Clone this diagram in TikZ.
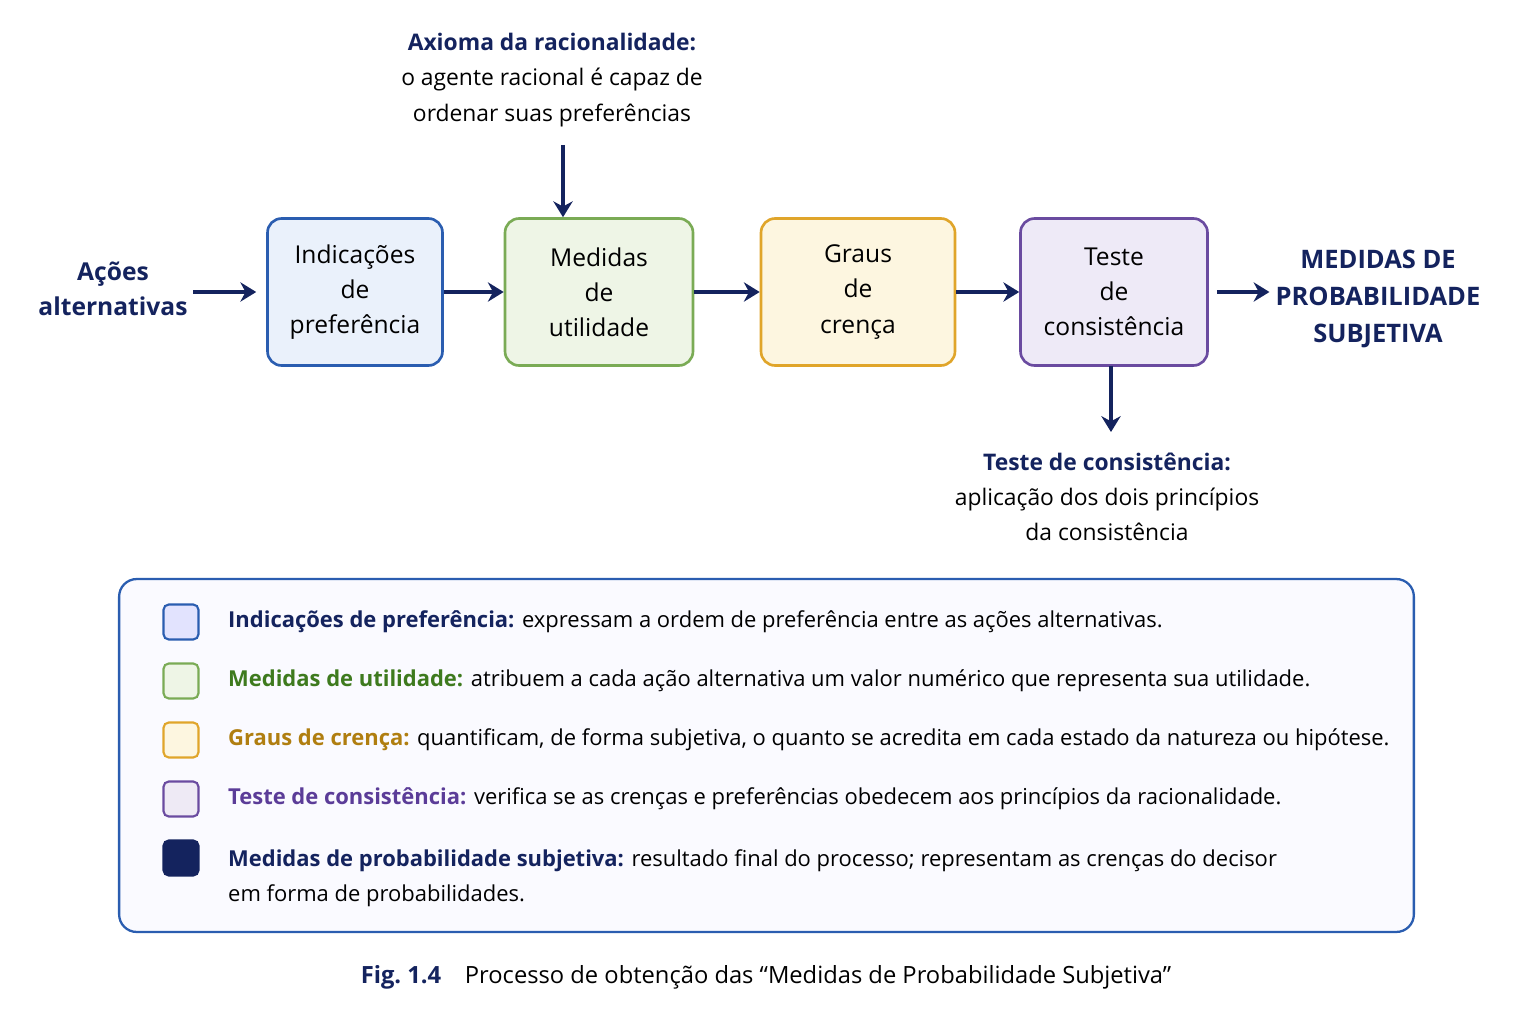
\documentclass[tikz,border=0pt]{standalone}
\usepackage{fontspec}
\setmainfont{Open Sans}
\usetikzlibrary{arrows.meta,positioning}
\definecolor{navy}{HTML}{14235E}
\definecolor{bluebd}{HTML}{2A5DB0}\definecolor{bluefl}{HTML}{EAF1FB}
\definecolor{greenbd}{HTML}{7AAB55}\definecolor{greenfl}{HTML}{EEF5E6}
\definecolor{yellowbd}{HTML}{E0A52A}\definecolor{yellowfl}{HTML}{FDF6E0}
\definecolor{purplebd}{HTML}{6A4BA0}\definecolor{purplefl}{HTML}{EEEAF7}
\definecolor{greentx}{HTML}{3E7A1E}\definecolor{yellowtx}{HTML}{B07E10}
\definecolor{purpletx}{HTML}{5B3C98}
\tikzset{%
	stage/.style  = {draw, line width=1.5pt, rounded corners=8pt, minimum height=2.94cm, align=center, font=\fontsize{14}{20}\selectfont, text=black},
	arrow/.style  = {draw=navy, line width=2.2pt, -{Stealth[length=9pt,width=11pt]}},
	note/.style   = {align=center, font=\fontsize{13}{20}\selectfont},
	legsq/.style  = {draw, line width=1.2pt, rounded corners=3pt, minimum size=0.7cm},
	legtx/.style  = {anchor=west, align=left, font=\fontsize{12.5}{20}\selectfont},
}
\begin{document}
\begin{tikzpicture}[x=0.02cm,y=-0.02cm]
	\useasboundingbox (0,0) rectangle (1536,1024);
	
	% process chain
	\node[stage, draw=bluebd, fill=bluefl, minimum width=3.5cm] (pref) at (355,292) {Indicações\\de\\preferência};
	\node[stage, draw=greenbd, fill=greenfl, minimum width=3.76cm] (util) at (599,292) {Medidas\\de\\utilidade};
	\node[stage, draw=yellowbd, fill=yellowfl, minimum width=3.88cm] (grau) at (858,292) {Graus\\de\\crença};
	\node[stage, draw=purplebd, fill=purplefl, minimum width=3.74cm] (test) at (1114,292) {Teste\\de\\consistência};
	
	\node[note, text=navy, font=\fontsize{14}{20}\selectfont\bfseries] (acoes) at (113,289) {Ações\\alternativas};
	\node[note, text=navy, font=\fontsize{14.5}{21}\selectfont\bfseries] (prob) at (1378,299) {MEDIDAS DE\\PROBABILIDADE\\SUBJETIVA};
	\node[note] (axioma) at (552,80) {\textcolor{navy}{\bfseries Axioma da racionalidade:}\\o agente racional é capaz de\\ordenar suas preferências};
	\node[note] (cons) at (1107,497) {\textcolor{navy}{\bfseries Teste de consistência:}\\aplicação dos dois princípios\\da consistência};
	
	\coordinate (a0) at (193,292);
	\coordinate (ax) at (563,145);
	\coordinate (c0) at (1111,366);
	\coordinate (c1) at (1111,432);
	\draw[arrow, shorten >=10pt*0+0.2cm] (a0) -- (pref.west);
	\draw[arrow] (pref) -- (util);
	\draw[arrow] (util) -- (grau);
	\draw[arrow] (grau) -- (test);
	\draw[arrow] (test.east) ++(8,0) -- (prob.west |- test.east);
	\draw[arrow] (ax) -- (ax |- util.north);
	\draw[arrow] (c0) -- (c1);
	
	% legend
	\node[draw=bluebd, line width=1.3pt, fill=blue!2, rounded corners=10pt, minimum width=25.9cm, minimum height=7.06cm] (leg) at (766.5,755.5) {};
	\node[legsq, draw=bluebd, fill=bluefl!60!blue!25] (s1) at (181,622) {};
	\node[legsq, draw=greenbd, fill=greenfl] (s2) at (181,681) {};
	\node[legsq, draw=yellowbd, fill=yellowfl] (s3) at (181,740) {};
	\node[legsq, draw=purplebd, fill=purplefl!70!purplebd!30] (s4) at (181,799) {};
	\node[legsq, draw=navy, fill=navy] (s5) at (181,858) {};
	\node[legtx] (t1) at (222,622) {\textcolor{navy}{\bfseries Indicações de preferência:} expressam a ordem de preferência entre as ações alternativas.};
	\node[legtx] (t2) at (222,681) {\textcolor{greentx}{\bfseries Medidas de utilidade:} atribuem a cada ação alternativa um valor numérico que representa sua utilidade.};
	\node[legtx] (t3) at (222,740) {\textcolor{yellowtx}{\bfseries Graus de crença:} quantificam, de forma subjetiva, o quanto se acredita em cada estado da natureza ou hipótese.};
	\node[legtx] (t4) at (222,799) {\textcolor{purpletx}{\bfseries Teste de consistência:} verifica se as crenças e preferências obedecem aos princípios da racionalidade.};
	\node[legtx, anchor=north west] (t5) at (222,843) {\textcolor{navy}{\bfseries Medidas de probabilidade subjetiva:} resultado final do processo; representam as crenças do decisor\\em forma de probabilidades.};
	
	% caption
	\node[font=\fontsize{13.5}{16}\selectfont] (cap) at (766,977) {\textcolor{navy}{\bfseries Fig.\ 1.4}\quad Processo de obtenção das “Medidas de Probabilidade Subjetiva”};
\end{tikzpicture}
\end{document}
